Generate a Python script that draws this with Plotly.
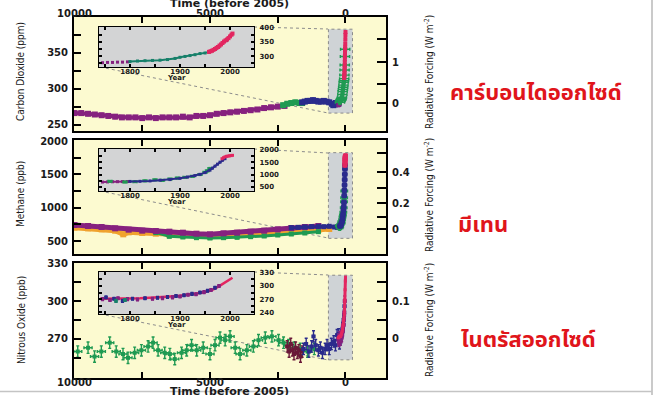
import plotly.graph_objects as go

W, H = 655, 395

# ---------------- DATA ----------------
# Carbon dioxide (ppm), main panel, years before 2005
co2_edc_t = [10000, 9750, 9500, 9250, 9000, 8750, 8500, 8250, 8000, 7750, 7500, 7250, 7000, 6750,
             6500, 6250, 6000, 5750, 5500, 5250, 5000, 4750, 4500, 4250, 4000, 3750, 3500, 3250,
             3000, 2750, 2500, 2250]
co2_edc_v = [266, 266, 265, 264, 263, 262, 261, 260, 260, 260, 259, 260, 259, 260,
             260, 260, 261, 260, 262, 262, 263, 265, 266, 267, 268, 269, 270, 271,
             273, 274, 275, 276]
co2_td_t = [2300, 2150, 2000, 1850, 1700, 1600]
co2_td_v = [277, 279, 280, 281, 280, 280]
co2_ld_t = [1600, 1500, 1400, 1300, 1200, 1100, 1000, 900, 800, 700, 600, 500, 450, 400, 350, 300, 260]
co2_ld_v = [281, 282, 283, 283, 284, 283, 282, 282, 283, 282, 281, 279, 277, 278, 280, 280, 279]
# Carbon dioxide, recent (calendar year) - inset and spike
co2_early_year = [1745, 1755, 1765, 1775, 1785, 1795]
co2_early_v = [277, 278, 278, 279, 279, 280]
co2_firn_year = [1800, 1815, 1830, 1845, 1860, 1875, 1890, 1900, 1910, 1920, 1930, 1940, 1950,
                 1958, 1965, 1972, 1978, 1985, 1993]
co2_firn_v = [281, 283, 284, 285, 286, 288, 292, 296, 299, 302, 305, 309, 311,
              314, 319, 326, 333, 345, 355]
co2_atm_year = [1958, 1961, 1964, 1967, 1970, 1973, 1976, 1979, 1982, 1985, 1988, 1991, 1994,
                1997, 2000, 2003, 2005]
co2_atm_v = [315, 317, 319, 322, 325, 329, 332, 337, 341, 346, 351, 355, 358, 363, 369, 375, 379]

# Methane (ppb), main panel
ch4_purple_t = [10000, 9500, 9000, 8500, 8000, 7500, 7000, 6500, 6000, 5500, 5000, 4500, 4000,
                3500, 3000, 2500, 2000, 1500, 1000]
ch4_purple_v = [740, 725, 710, 690, 670, 655, 650, 640, 625, 610, 600, 615, 625,
                640, 655, 675, 695, 710, 725]
ch4_orange_t = [10000, 9500, 9000, 8500, 8200, 8000, 7500, 7000, 6500, 6000, 5500, 5000, 4500,
                4000, 3500, 3000, 2500, 2000, 1500, 1000, 600]
ch4_orange_v = [700, 690, 675, 655, 600, 630, 620, 610, 595, 585, 575, 565, 570,
                580, 590, 600, 615, 630, 650, 665, 680]
ch4_green_t = [7000, 6500, 6000, 5500, 5000, 4500, 4000, 3500, 3000, 2500, 2000, 1500, 1000]
ch4_green_v = [625, 570, 560, 550, 545, 550, 555, 565, 575, 590, 605, 620, 640]
ch4_blue_t = [2000, 1750, 1500, 1250, 1000, 800, 600, 400, 300]
ch4_blue_v = [700, 705, 710, 715, 720, 715, 720, 710, 705]
# Methane, recent
ch4_early_year = [1745, 1755, 1765, 1775, 1785, 1795]
ch4_early_v = [700, 705, 712, 715, 718, 720]
ch4_ld_year = [1800, 1820, 1840, 1860, 1880, 1900, 1915, 1930, 1940, 1950, 1960, 1965, 1970,
               1975, 1980, 1985, 1990]
ch4_ld_v = [725, 730, 745, 775, 800, 850, 900, 960, 1010, 1080, 1180, 1260, 1340,
            1420, 1500, 1580, 1640]
ch4_gr_year = [1760, 1790, 1810, 1830, 1850, 1865, 1880, 1895, 1910, 1925, 1940, 1950, 1955, 1960]
ch4_gr_v = [730, 700, 715, 750, 790, 770, 820, 860, 890, 930, 1000, 1090, 1150, 1250]
ch4_atm_year = [1984, 1987, 1990, 1993, 1996, 1999, 2002, 2005]
ch4_atm_v = [1640, 1680, 1715, 1735, 1745, 1755, 1765, 1775]

# Nitrous oxide (ppb), main panel
n2o_green_t = [9880, 9500, 9260, 9010, 8700, 8460, 8210, 8025, 7780, 7530, 7285, 7100, 6915, 6670,
               6480, 6300, 6050, 5860, 5680, 5490, 5250, 5000, 4815, 4630, 4440, 4260, 4070, 3890,
               3640, 3400, 3210, 2960, 2715, 2470, 2285, 2100, 1900, 1670, 1400, 1150]
n2o_green_v = [260, 263, 256, 260, 267, 260, 258, 255, 259, 261, 264, 267, 261, 259,
               258, 254, 259, 261, 265, 261, 263, 258, 265, 271, 269, 272, 263, 258,
               261, 264, 269, 271, 272, 269, 267, 265, 263, 262, 260, 262]
n2o_maroon_t = [2150, 2080, 2020, 1960, 1900, 1840, 1780, 1720, 1660, 1600]
n2o_maroon_v = [264, 260, 266, 261, 258, 263, 259, 261, 256, 260]
n2o_navy_t = [1550, 1450, 1350, 1250, 1180, 1100, 1000, 925, 850, 750, 680, 600, 520, 430, 370, 310]
n2o_navy_v = [262, 266, 260, 264, 272, 265, 261, 263, 259, 262, 265, 262, 266, 268, 265, 273]
# Nitrous oxide, recent
n2o_line_year = [1740, 1760, 1780, 1800, 1820, 1840, 1860, 1880, 1900, 1920, 1940, 1960, 1970,
                 1980, 1990, 2000, 2005]
n2o_line_v = [271, 271, 272, 272, 272, 273, 274, 276, 278, 281, 284, 289, 294, 301, 309, 316, 319]
n2o_core_year = [1745, 1760, 1776, 1795, 1815, 1845, 1865, 1885, 1900, 1916, 1932, 1948, 1962, 1978]
n2o_core_v = [270, 268, 272, 270, 269, 271, 272, 274, 276, 280, 281, 286, 291, 300]
n2o_core2_year = [1752, 1768, 1785, 1805, 1830, 1855, 1875, 1892, 1908, 1924, 1940, 1955, 1970]
n2o_core2_v = [274, 271, 266, 271, 272, 273, 275, 277, 279, 282, 285, 289, 296]
n2o_teal_year = [1772, 1790]
n2o_teal_v = [266, 268]

# Axis ticks / labels
time_ticks = [10000, 7500, 5000, 2500, 0]
time_text = ["10000", " ", "5000", " ", "0"]
year_ticks = [1750, 1800, 1850, 1900, 1950, 2000, 2050]
year_text = [" ", "1800", " ", "1900", " ", "2000", " "]
co2_ticks = [250, 275, 300, 325, 350, 375]
co2_text = ["250", " ", "300", " ", "350", " "]
ch4_ticks = [500, 750, 1000, 1250, 1500, 1750, 2000]
ch4_text = ["500", " ", "1000", " ", "1500", " ", "2000"]
n2o_ticks = [255, 270, 285, 300, 315, 330]
n2o_text = [" ", "270", " ", "300", " ", "330"]
co2_in_ticks = [275, 300, 325, 350, 375, 400]
co2_in_text = [" ", "300", " ", "350", " ", "400"]
ch4_in_ticks = [500, 750, 1000, 1250, 1500, 1750, 2000]
ch4_in_text = ["500", " ", "1000", " ", "1500", " ", "2000"]
n2o_in_ticks = [240, 255, 270, 285, 300, 315, 330]
n2o_in_text = ["240", " ", "270", " ", "300", " ", "330"]
# Radiative forcing ticks: concentration position and label
co2_rf_pos = [280, 307, 337, 370]
co2_rf_text = ["0", " ", "1", " "]
ch4_rf_pos = [680, 860, 1070, 1295, 1535, 1820]
ch4_rf_text = ["0", " ", "0.2", " ", "0.4", " "]
n2o_rf_pos = [270, 285, 300, 315]
n2o_rf_text = ["0", " ", "0.1", " "]

# ---------------- STYLE ----------------
C_PURPLE = "#86217f"
C_NAVY = "#2a2b8c"
C_GREEN = "#1f9a52"
C_TEAL = "#17806a"
C_RED = "#e32660"
C_ORANGE = "#f0a22e"
C_MAROON = "#6a1838"
YELLOW = "#fcfad0"
INSET_BG = "#d3d4d5"
BOX_BG = "#cfd3d6"
TXT = "#1a1a1a"

def px(x):
    return x / W

def py(y):
    return 1 - y / H

MAIN_X = [px(74), px(386)]
P1 = [py(131), py(17)]
P2 = [py(254), py(140)]
P3 = [py(378), py(263)]
IN_X = [px(99), px(254)]
I1 = [py(67), py(27)]
I2 = [py(191), py(149)]
I3 = [py(314), py(272)]

T_RANGE = [10018, -1495]
Y_RANGE = [1738, 2048]
CO2_R = [241, 400]
CH4_R = [305, 2015]
N2O_R = [239, 330.2]
CO2_IR = [262, 402]
CH4_IR = [340, 2030]
N2O_IR = [236, 332]

fig = go.Figure()

def add(x, y, xa, ya, color, size=4, ey=0, ex=0, symbol="square", mode="markers", lw=2):
    tr = dict(x=x, y=y, xaxis=xa, yaxis=ya, mode=mode, showlegend=False, hoverinfo="skip",
              marker=dict(color=color, size=size, symbol=symbol, line=dict(width=0)),
              line=dict(color=color, width=lw))
    if ey:
        tr["error_y"] = dict(type="constant", value=ey, color=color, thickness=1.4, width=1.5)
    if ex:
        tr["error_x"] = dict(type="constant", value=ex, color=color, thickness=1.4, width=1.5)
    fig.add_trace(go.Scatter(**tr))

def bp(years):
    return [2005 - yv for yv in years]

# ---- Panel 1: CO2 ----
add(co2_edc_t, co2_edc_v, "x", "y", C_PURPLE, 6, ey=2.5, ex=70, mode="lines+markers", lw=4)
add(co2_td_t, co2_td_v, "x", "y", C_GREEN, 6, ey=2.5, ex=70, mode="lines+markers", lw=4)
add(co2_ld_t, co2_ld_v, "x", "y", C_NAVY, 6, ey=2.5, ex=40, mode="lines+markers", lw=5)
add(bp(co2_early_year), co2_early_v, "x", "y", C_PURPLE, 4, ey=2)
add(bp(co2_firn_year), co2_firn_v, "x", "y", C_GREEN, 4, ey=3, ex=170)
add(bp(co2_atm_year), co2_atm_v, "x", "y", C_RED, 4, ey=2)
fig.add_trace(go.Scatter(x=[], y=[], xaxis="x", yaxis="y4", showlegend=False))

# ---- Panel 2: CH4 ----
add(ch4_orange_t, ch4_orange_v, "x2", "y2", C_ORANGE, 6, ey=25, ex=60, mode="lines+markers", lw=5)
add(ch4_green_t, ch4_green_v, "x2", "y2", C_GREEN, 5, ey=20, ex=60, mode="lines+markers", lw=3)
add(ch4_purple_t, ch4_purple_v, "x2", "y2", C_PURPLE, 6, ey=25, ex=60, mode="lines+markers", lw=5)
add(ch4_blue_t, ch4_blue_v, "x2", "y2", C_NAVY, 5, ey=20, ex=60, mode="lines+markers", lw=3)
add(bp(ch4_early_year), ch4_early_v, "x2", "y2", C_PURPLE, 4, ey=20)
add(bp(ch4_gr_year), ch4_gr_v, "x2", "y2", C_GREEN, 5, ey=40, ex=120)
add(bp(ch4_ld_year), ch4_ld_v, "x2", "y2", C_NAVY, 5, ey=30, ex=80)
add(bp(ch4_atm_year), ch4_atm_v, "x2", "y2", C_RED, 5, ey=30, ex=60)
fig.add_trace(go.Scatter(x=[], y=[], xaxis="x2", yaxis="y5", showlegend=False))

# ---- Panel 3: N2O ----
add(n2o_green_t, n2o_green_v, "x3", "y3", C_GREEN, 4, ey=4.5, ex=150)
add(n2o_maroon_t, n2o_maroon_v, "x3", "y3", C_MAROON, 4, ey=4.5, ex=40)
add(n2o_navy_t, n2o_navy_v, "x3", "y3", C_NAVY, 4, ey=4.5, ex=40)
add(bp(n2o_core2_year), n2o_core2_v, "x3", "y3", C_NAVY, 4, ey=4, ex=40)
add(bp(n2o_core_year), n2o_core_v, "x3", "y3", C_PURPLE, 4, ey=4, ex=40)
add(bp(n2o_line_year), n2o_line_v, "x3", "y3", C_RED, 3, mode="lines+markers", lw=3)
fig.add_trace(go.Scatter(x=[], y=[], xaxis="x3", yaxis="y6", showlegend=False))

# ---- Insets ----
add(co2_early_year, co2_early_v, "x4", "y7", C_PURPLE, 3)
add(co2_firn_year, co2_firn_v, "x4", "y7", C_TEAL, 3, mode="lines+markers", lw=2)
add(co2_atm_year, co2_atm_v, "x4", "y7", C_RED, 4, mode="lines+markers", lw=3)

add(ch4_early_year, ch4_early_v, "x5", "y8", C_PURPLE, 3, mode="lines+markers", lw=2)
add(ch4_gr_year, ch4_gr_v, "x5", "y8", C_GREEN, 3, ey=25, ex=4)
add(ch4_ld_year, ch4_ld_v, "x5", "y8", C_NAVY, 3, mode="lines+markers", lw=2)
add(ch4_atm_year, ch4_atm_v, "x5", "y8", C_RED, 3, mode="lines+markers", lw=2)

add(n2o_line_year, n2o_line_v, "x6", "y9", C_RED, 2, mode="lines", lw=2.5)
add(n2o_core_year, n2o_core_v, "x6", "y9", C_PURPLE, 3, ey=3, ex=2)
add(n2o_core2_year, n2o_core2_v, "x6", "y9", C_NAVY, 3, ey=3, ex=2)
add(n2o_teal_year, n2o_teal_v, "x6", "y9", C_TEAL, 3, ey=3, ex=2)

# ---------------- AXES ----------------
tick_font = dict(family="DejaVu Sans", size=10, color=TXT, weight="bold")
small_font = dict(family="DejaVu Sans", size=7, color=TXT, weight="bold")

def xmain(side, labels, standoff):
    return dict(domain=MAIN_X, range=T_RANGE, side=side, showticklabels=labels,
                tickvals=time_ticks, ticktext=time_text, ticks="inside", ticklen=6,
                tickwidth=2, tickcolor="black", mirror="ticks", showline=True, linewidth=2,
                linecolor="black", showgrid=False, zeroline=False, tickfont=tick_font,
                automargin=False, ticklabelstandoff=standoff)

def ymain(dom, rng, tv, tt, anchor):
    return dict(domain=dom, range=rng, anchor=anchor, tickvals=tv, ticktext=tt, ticks="inside",
                ticklen=7, tickwidth=2, tickcolor="black", showline=True, linewidth=2,
                linecolor="black", showgrid=False, zeroline=False, tickfont=tick_font,
                automargin=False, ticklabelstandoff=2)

def yrf(over, anchor, rng, tv, tt):
    return dict(overlaying=over, anchor=anchor, side="right", range=rng, tickvals=tv,
                ticktext=tt, ticks="inside", ticklen=9, tickwidth=2, tickcolor="black",
                showline=True, linewidth=2, linecolor="black", showgrid=False, zeroline=False,
                tickfont=tick_font, automargin=False, ticklabelstandoff=2)

def xin(anchor):
    return dict(domain=IN_X, range=Y_RANGE, anchor=anchor, tickvals=year_ticks,
                ticktext=year_text, ticks="inside", ticklen=3, tickwidth=1.5, tickcolor="black",
                mirror="ticks", showline=True, linewidth=1.2, linecolor="black", showgrid=False,
                zeroline=False, tickfont=small_font, automargin=False, ticklabelstandoff=-3)

def yin(dom, anchor, rng, tv, tt):
    return dict(domain=dom, range=rng, anchor=anchor, side="right", tickvals=tv, ticktext=tt,
                ticks="inside", ticklen=3, tickwidth=1.5, tickcolor="black", mirror="ticks",
                showline=True, linewidth=1.2, linecolor="black", showgrid=False, zeroline=False,
                tickfont=small_font, automargin=False, ticklabelstandoff=3)

fig.update_layout(
    width=W, height=H, margin=dict(l=0, r=0, t=0, b=0, autoexpand=False),
    paper_bgcolor="white", plot_bgcolor=YELLOW, showlegend=False,
    xaxis=dict(xmain("top", True, -6), anchor="y"),
    xaxis2=dict(xmain("bottom", False, 0), anchor="y2"),
    xaxis3=dict(xmain("bottom", True, -6), anchor="y3"),
    yaxis=ymain(P1, CO2_R, co2_ticks, co2_text, "x"),
    yaxis2=ymain(P2, CH4_R, ch4_ticks, ch4_text, "x2"),
    yaxis3=ymain(P3, N2O_R, n2o_ticks, n2o_text, "x3"),
    yaxis4=yrf("y", "x", CO2_R, co2_rf_pos, co2_rf_text),
    yaxis5=yrf("y2", "x2", CH4_R, ch4_rf_pos, ch4_rf_text),
    yaxis6=yrf("y3", "x3", N2O_R, n2o_rf_pos, n2o_rf_text),
    xaxis4=xin("y7"), xaxis5=xin("y8"), xaxis6=xin("y9"),
    yaxis7=yin(I1, "x4", CO2_IR, co2_in_ticks, co2_in_text),
    yaxis8=yin(I2, "x5", CH4_IR, ch4_in_ticks, ch4_in_text),
    yaxis9=yin(I3, "x6", N2O_IR, n2o_in_ticks, n2o_in_text),
)

# ---------------- SHAPES ----------------
shapes = []
for xa, ya, y0, y1 in [("x", "y", 266, 383), ("x2", "y2", 540, 1825), ("x3", "y3", 253.4, 320.5)]:
    shapes.append(dict(type="rect", xref=xa, yref=ya, x0=630, x1=-258, y0=y0, y1=y1,
                       fillcolor=BOX_BG, line=dict(color="#8a8a8a", width=1, dash="dot"),
                       layer="below"))
for xa, ya, yr in [("x4", "y7", CO2_IR), ("x5", "y8", CH4_IR), ("x6", "y9", N2O_IR)]:
    shapes.append(dict(type="rect", xref=xa, yref=ya, x0=Y_RANGE[0], x1=Y_RANGE[1], y0=yr[0],
                       y1=yr[1], fillcolor=INSET_BG, line=dict(width=0), layer="below"))
for (ax, ay, bx, by) in [(254, 27, 328, 29), (100, 67, 328, 113),
                         (254, 149, 328, 153), (100, 191, 328, 238),
                         (254, 272, 328, 275), (100, 314, 328, 360)]:
    shapes.append(dict(type="line", xref="paper", yref="paper", x0=px(ax), y0=py(ay),
                       x1=px(bx), y1=py(by), line=dict(color="#8c8c8c", width=1, dash="dot"),
                       layer="below"))
shapes.append(dict(type="line", xref="paper", yref="paper", x0=px(652), x1=px(652), y0=0, y1=1,
                   line=dict(color="#b8b8b8", width=1.5)))
shapes.append(dict(type="line", xref="paper", yref="paper", x0=0, x1=px(652), y0=py(391.5),
                   y1=py(391.5), line=dict(color="#c4c4c4", width=1.5)))
fig.update_layout(shapes=shapes)

# ---------------- TEXT ----------------
narrow = "Liberation Sans Narrow, DejaVu Sans Condensed, Arial Narrow, sans-serif"
thai = "Noto Sans Thai, Loma, Garuda, Tlwg Typo, Noto Sans, DejaVu Sans, sans-serif"
ann = []
def a(text, x, y, size, family, color=TXT, angle=0, weight="normal"):
    ann.append(dict(text=text, x=px(x), y=py(y), xref="paper", yref="paper", showarrow=False,
                    textangle=angle, xanchor="center", yanchor="middle",
                    font=dict(family=family, size=size, color=color, weight=weight)))

a("Time (before 2005)", 230, 3, 11, "DejaVu Sans", weight="bold")
a("Time (before 2005)", 230, 391, 11, "DejaVu Sans", weight="bold")
a("Carbon Dioxide (ppm)", 21, 72, 10, narrow, angle=-90)
a("Methane (ppb)", 21, 194, 10, narrow, angle=-90)
a("Nitrous Oxide (ppb)", 21, 320, 10, narrow, angle=-90)
for yc in [72, 195, 320]:
    a("Radiative Forcing (W m<sup>-2</sup>)", 429, yc, 10, narrow, angle=-90)
for yc in [78.5, 202.5, 325]:
    a("Year", 176, yc, 7, "DejaVu Sans", weight="bold")
a("คาร์บอนไดออกไซด์", 536, 93, 22, thai, color="#e0151b", weight="bold")
a("มีเทน", 483, 225, 22, thai, color="#e0151b", weight="bold")
a("ไนตรัสออกไซด์", 528, 340, 22, thai, color="#e0151b", weight="bold")
fig.update_layout(annotations=ann)

fig.write_html("out.html", config={"displayModeBar": False},
               post_script="document.body.style.margin='0';")
